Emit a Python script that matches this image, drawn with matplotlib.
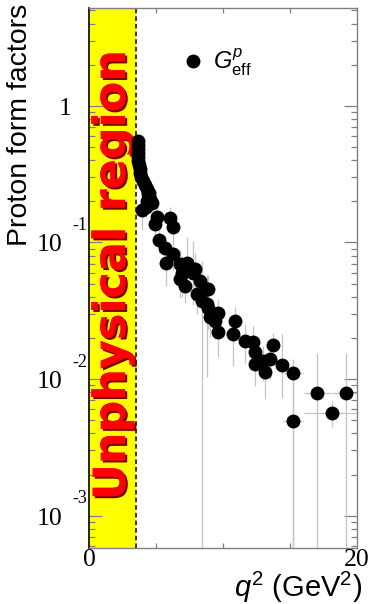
import matplotlib
matplotlib.use('Agg')
import matplotlib.pyplot as plt
import matplotlib.transforms as mtransforms
from matplotlib import patheffects as pe
from matplotlib.ticker import LogLocator, NullFormatter, FixedLocator

plt.rcParams['mathtext.fontset'] = 'custom'
plt.rcParams['mathtext.rm'] = 'Liberation Sans'
plt.rcParams['mathtext.it'] = 'Liberation Sans:italic'
plt.rcParams['mathtext.bf'] = 'Liberation Sans:bold'

# ---- data: effective proton form factor vs q^2 ----
q2 = [3.62, 3.64, 3.66, 3.66, 3.68, 3.69, 3.73, 3.77, 3.81, 3.88,
      4.03, 4.18, 4.33, 4.40, 4.55, 4.68, 3.93, 4.25, 4.93, 5.07,
      6.04, 6.29, 5.25, 5.67, 6.29, 5.72, 6.79, 7.29, 7.91, 6.79,
      7.16, 8.28, 8.04, 8.88, 8.41, 8.78, 8.88, 9.65, 9.03, 9.40,
      9.65, 10.90, 10.77, 11.64, 12.26, 12.39, 12.39, 13.01, 13.13, 13.51,
      13.71, 14.38, 15.25, 15.25, 17.04, 18.16, 19.16, 6.92, 7.78, 8.78,
      4.45, 4.30]
G_eff = [0.551, 0.515, 0.481, 0.450, 0.421, 0.394, 0.368, 0.344, 0.322, 0.301,
         0.281, 0.263, 0.246, 0.226, 0.208, 0.195, 0.173, 0.182, 0.136, 0.154,
         0.152, 0.130, 0.104, 0.0917, 0.0824, 0.0712, 0.0697, 0.0712, 0.0641, 0.0542,
         0.0481, 0.0524, 0.0421, 0.0458, 0.0374, 0.0354, 0.0334, 0.0307, 0.0283, 0.0267,
         0.0220, 0.0267, 0.0214, 0.0191, 0.0186, 0.0157, 0.0129, 0.0136, 0.0112, 0.0140,
         0.0178, 0.0127, 0.0110, 0.0049, 0.00784, 0.00567, 0.00784, 0.0601, 0.0601, 0.0455,
         0.230, 0.200]
G_err_lo = [0.02, 0.02, 0.02, 0.02, 0.02, 0.02, 0.02, 0.02, 0.02, 0.02,
            0.02, 0.02, 0.02, 0.02, 0.02, 0.02, 0.05, 0.03, 0.03, 0.03,
            0.03, 0.03, 0.02, 0.02, 0.02, 0.023, 0.02, 0.027, 0.02, 0.015,
            0.012, 0.015, 0.012, 0.012, 0.0374, 0.025, 0.01, 0.008, 0.008, 0.007,
            0.0076, 0.007, 0.009, 0.006, 0.006, 0.005, 0.004, 0.004, 0.004, 0.004,
            0.002, 0.0054, 0.0110, 0.0049, 0.00784, 0.0012, 0.00784, 0.02, 0.025, 0.012,
            0.02, 0.02]
G_err_hi = [0.02, 0.02, 0.02, 0.02, 0.02, 0.02, 0.02, 0.02, 0.02, 0.02,
            0.02, 0.02, 0.02, 0.02, 0.02, 0.02, 0.04, 0.03, 0.03, 0.03,
            0.03, 0.03, 0.02, 0.02, 0.02, 0.02, 0.02, 0.038, 0.02, 0.015,
            0.012, 0.015, 0.012, 0.012, 0.036, 0.02, 0.01, 0.008, 0.008, 0.007,
            0.007, 0.007, 0.007, 0.006, 0.006, 0.005, 0.004, 0.004, 0.004, 0.004,
            0.004, 0.0088, 0.003, 0.006, 0.0078, 0.0012, 0.0078, 0.02, 0.043, 0.012,
            0.02, 0.02]
q2_err = [0.0] * 52 + [0.7, 0.75, 1.0, 2.1, 1.0, 0.0, 0.0, 0.0, 0.0, 0.0]

threshold_q2 = 3.52
x_label_pos = [0, 20]
x_label_text = ['0', '20']
x_minor_ticks = [5, 10, 15]
y_label_pos = [1.0, 0.1, 0.01, 0.001]
y_label_base = ['1', '10', '10', '10']
y_label_exp = ['', '-1', '-2', '-3']

W, H = 371, 604
fig = plt.figure(figsize=(W / 100, H / 100), dpi=100)
ax = fig.add_axes([89 / W, 1 - 548 / H, (357 - 89) / W, (548 - 8) / H])
ax.set_yscale('log', nonpositive='clip')
ax.set_xlim(0, 20)
ax.set_ylim(5.8e-4, 5.2)

# unphysical region
ax.axvspan(0, threshold_q2, color='#ffff00', zorder=0, lw=0)
ax.axvline(threshold_q2, color='black', ls=(0, (3, 2)), lw=1.1, zorder=1)
ax.text(threshold_q2 / 2, 10 ** ((105 - 274) / 136.7), 'Unphysical region',
        rotation=90, ha='center', va='center', color='#ff0000',
        fontsize=32, fontweight='bold', family='DejaVu Sans', zorder=2,
        path_effects=[pe.withSimplePatchShadow(offset=(1.5, -1.5),
                                               shadow_rgbFace='#7a0000', alpha=1.0),
                      pe.Normal()])

# data
ax.errorbar(q2, G_eff, yerr=[G_err_lo, G_err_hi], xerr=q2_err, fmt='none',
            ecolor='#c4c4c4', elinewidth=0.9, capsize=0, zorder=3)
ax.plot(q2, G_eff, 'o', color='black', ms=10, mew=0, zorder=4,
        label=r'$G^{p}_{\mathrm{eff}}$')

leg = ax.legend(loc='center left', bbox_to_anchor=(0.343, 0.9), frameon=False,
                handlelength=1.0, handletextpad=0.35, borderpad=0, borderaxespad=0,
                fontsize=17)

# ticks
ax.xaxis.set_major_locator(FixedLocator(x_minor_ticks))
ax.yaxis.set_major_locator(LogLocator(base=10, numticks=10))
ax.yaxis.set_minor_locator(LogLocator(base=10, subs=range(2, 10), numticks=20))
ax.yaxis.set_minor_formatter(NullFormatter())
ax.tick_params(which='both', direction='in', top=True, right=True,
               labelleft=False, labelbottom=False, color='#808080', width=0.9)
ax.tick_params(axis='y', which='major', length=9.5)
ax.tick_params(axis='y', which='minor', length=4.5)
ax.tick_params(axis='x', which='major', length=3.8)
for s in ['top', 'right', 'bottom']:
    ax.spines[s].set_color('#808080')
    ax.spines[s].set_linewidth(1.0)
ax.spines['left'].set_color('black')
ax.spines['left'].set_linewidth(1.2)

serif = 'Liberation Serif'
for yv, base, ex in zip(y_label_pos, y_label_base, y_label_exp):
    if ex == '':
        tr = ax.get_yaxis_transform() + mtransforms.ScaledTranslation(-24 / 100, -3 / 100, fig.dpi_scale_trans)
        ax.text(0, yv, base, transform=tr, ha='center', va='center', fontsize=18.5, family=serif)
    else:
        tr = ax.get_yaxis_transform() + mtransforms.ScaledTranslation(-39 / 100, -3 / 100, fig.dpi_scale_trans)
        ax.text(0, yv, base, transform=tr, ha='center', va='center', fontsize=18.5, family=serif)
        tr2 = ax.get_yaxis_transform() + mtransforms.ScaledTranslation(-9 / 100, 17 / 100, fig.dpi_scale_trans)
        ax.text(0, yv, ex, transform=tr2, ha='center', va='center', fontsize=13, family=serif)

for xv, lab in zip(x_label_pos, x_label_text):
    tr = ax.get_xaxis_transform() + mtransforms.ScaledTranslation(0, -12 / 100, fig.dpi_scale_trans)
    ax.text(xv, 0, lab, transform=tr, ha='center', va='center', fontsize=18.5, family=serif)

fig.text(20 / W, 1 - 4 / H, 'Proton form factors', rotation=90, ha='center', va='top',
         fontsize=20.5, family='Liberation Sans')
fig.text(362 / W, 7 / H, r'$q^{2}$ (GeV$^{2}$)', ha='right', va='baseline',
         fontsize=21, family='Liberation Sans')

fig.savefig('out.png', dpi=100)
